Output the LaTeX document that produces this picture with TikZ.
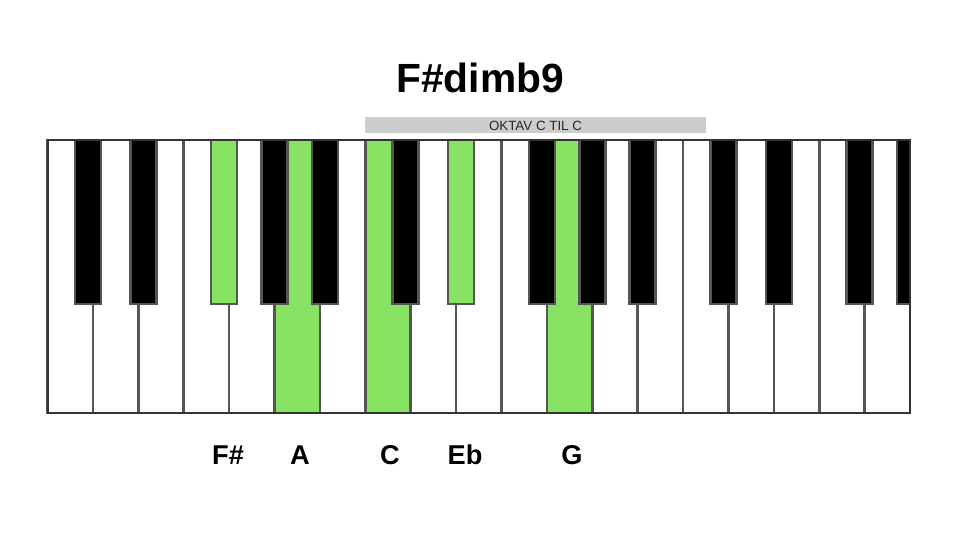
\documentclass[tikz,border=0pt]{standalone}
\usepackage{fontspec}
\setmainfont{Liberation Sans}
\definecolor{keygreen}{RGB}{137,227,98}
\definecolor{keyline}{RGB}{85,85,85}
\definecolor{bargray}{RGB}{205,205,205}

\begin{document}
\begin{tikzpicture}[x=0.02cm,y=0.02cm,
	whitekey/.style={draw=keyline,fill=white,line width=0.05cm},
	greenkey/.style={draw=keyline,fill=keygreen,line width=0.05cm},
	blackkey/.style={draw=keyline,fill=black,line width=0.05cm},
	notename/.style={anchor=base,font=\bfseries\fontsize{15.5}{18}\selectfont}]
	\useasboundingbox[fill=white] (0,0) rectangle (960,540);

	% white keys
	\draw[whitekey] (47.5,127) rectangle (92.9,400);
	\draw[whitekey] (92.9,127) rectangle (138.3,400);
	\draw[whitekey] (138.3,127) rectangle (183.7,400);
	\draw[whitekey] (183.7,127) rectangle (229.1,400);
	\draw[whitekey] (229.1,127) rectangle (274.5,400);
	\draw[greenkey] (274.5,127) rectangle (319.9,400);
	\draw[whitekey] (319.9,127) rectangle (365.3,400);
	\draw[greenkey] (365.3,127) rectangle (410.7,400);
	\draw[whitekey] (410.7,127) rectangle (456.1,400);
	\draw[whitekey] (456.1,127) rectangle (501.5,400);
	\draw[whitekey] (501.5,127) rectangle (546.9,400);
	\draw[greenkey] (546.9,127) rectangle (592.3,400);
	\draw[whitekey] (592.3,127) rectangle (637.7,400);
	\draw[whitekey] (637.7,127) rectangle (683.1,400);
	\draw[whitekey] (683.1,127) rectangle (728.5,400);
	\draw[whitekey] (728.5,127) rectangle (773.9,400);
	\draw[whitekey] (773.9,127) rectangle (819.3,400);
	\draw[whitekey] (819.3,127) rectangle (864.7,400);
	\draw[whitekey] (864.7,127) rectangle (910.1,400);

	% black keys
	\draw[blackkey] (74.9,236) rectangle (100.9,400);
	\draw[blackkey] (130.3,236) rectangle (156.3,400);
	\draw[greenkey] (211.1,236) rectangle (237.1,400);
	\draw[blackkey] (261.5,236) rectangle (287.5,400);
	\draw[blackkey] (311.9,236) rectangle (337.9,400);
	\draw[blackkey] (392.7,236) rectangle (418.7,400);
	\draw[greenkey] (448.1,236) rectangle (474.1,400);
	\draw[blackkey] (528.9,236) rectangle (554.9,400);
	\draw[blackkey] (579.3,236) rectangle (605.3,400);
	\draw[blackkey] (629.7,236) rectangle (655.7,400);
	\draw[blackkey] (710.5,236) rectangle (736.5,400);
	\draw[blackkey] (765.9,236) rectangle (791.9,400);
	\draw[blackkey] (846.7,236) rectangle (872.7,400);
	\draw[blackkey] (897.1,236) rectangle (910.1,400);

	\draw[line width=0.04cm,draw=black!80] (47.5,127) rectangle (910.1,400);

	% octave bar
	\fill[bargray] (365.3,406.7) rectangle (705.7,423.3);
	\node[anchor=base,font=\fontsize{7.6}{9}\selectfont,text=black!85] (octave) at (535.5,409.5) {OKTAV C TIL C};

	\node[anchor=base,font=\bfseries\fontsize{23.2}{28}\selectfont] (title) at (480,447) {F\#dimb9};

	\node[notename] (lblFs) at (228,75) {F\#};
	\node[notename] (lblA) at (300,75) {A};
	\node[notename] (lblC) at (390,75) {C};
	\node[notename] (lblEb) at (465,75) {Eb};
	\node[notename] (lblG) at (572,75) {G};
\end{tikzpicture}
\end{document}
